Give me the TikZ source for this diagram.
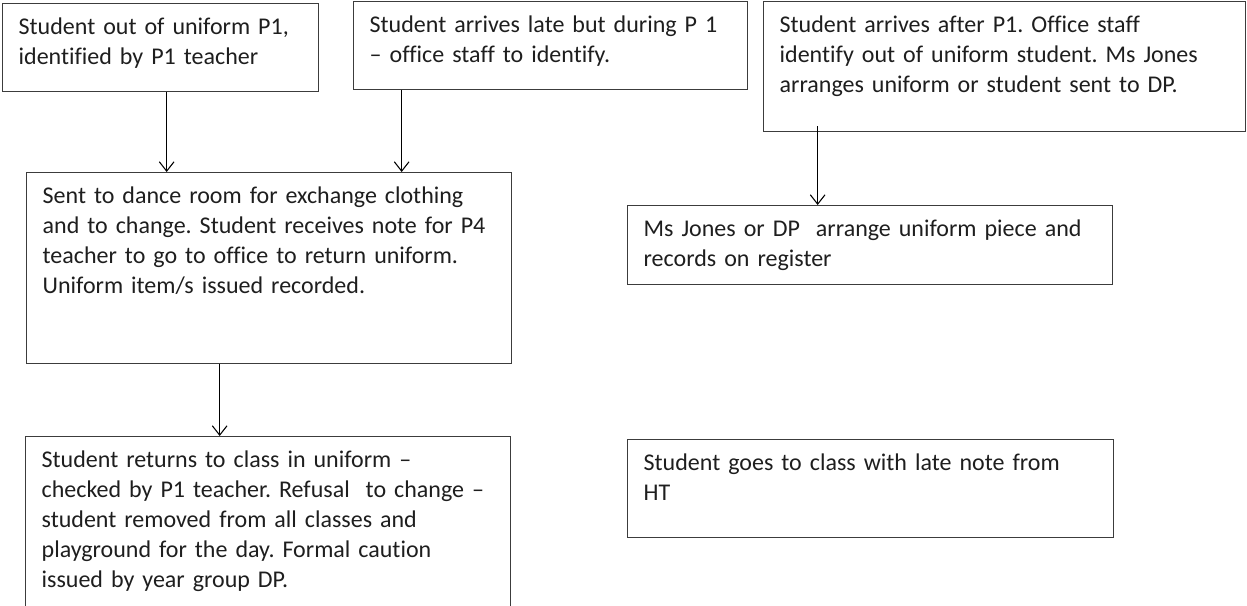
\documentclass[tikz,border=0pt]{standalone}
\usepackage{fontspec}
\setmainfont{Carlito}[Ligatures={TeX,NoCommon}]
\usepackage{tikz}
\usetikzlibrary{arrows.meta, positioning}
\tikzset{>={Straight Barb[length=7pt,width=11pt]}}
\definecolor{boxgrey}{HTML}{3C3C3C}
\definecolor{textgrey}{HTML}{1E1E1E}
\frenchspacing

\begin{document}
\begin{tikzpicture}[x=0.75pt,y=-0.75pt,
	box/.style={draw=boxgrey, line width=1pt, anchor=north west, align=left, text=textgrey,
		inner xsep=12pt, inner ysep=10pt, text height=13pt,
		font=\fontsize{18pt}{22.5pt}\selectfont},
	flow/.style={->, line width=0.8pt}]
			\useasboundingbox (0,0) rectangle (1247,606);
			\node [box, text width=213pt, text depth=33pt] (outP1) at (2,3) {Student out of uniform P1,\\identified by P1 teacher};
			\node [box, text width=271.5pt, text depth=33pt] (lateP1) at (353,1) {Student arrives late but during P 1\\-- office staff to identify.};
			\node [box, text width=337.5pt, text depth=64.5pt] (afterP1) at (763,1) {Student arrives after P1. Office staff\\identify out of uniform student. Ms Jones\\arranges uniform or student sent to DP.};
			\node [box, text width=339.75pt, text depth=110.25pt] (dance) at (26,172) {Sent to dance room for exchange clothing\\and to change. Student receives note for P4\\teacher to go to office to return uniform.\\Uniform item/s issued recorded.};
			\node [box, text width=339.75pt, text depth=26.25pt] (jones) at (627,205) {Ms Jones or DP\ \ arrange uniform piece and\\records on register};
			\node [box, text width=339.75pt, text depth=96pt] (back) at (25,436) {Student returns to class in uniform --\\checked by P1 teacher. Refusal\ \ to change --\\student removed from all classes and\\playground for the day. Formal caution\\issued by year group DP.};
			\node [box, text width=340.5pt, text depth=40.5pt] (latenote) at (627,439) {Student goes to class with late note from\\HT};
			\coordinate (a1) at ([xshift=4.5pt]outP1.south);
			\coordinate (b1) at ([xshift=-111.75pt]lateP1.south);
			\coordinate (c1) at ([xshift=-140.25pt,yshift=4.5pt]afterP1.south);
			\coordinate (d1) at ([xshift=-37.125pt]dance.south);
			\draw [flow] (a1) -- (a1 |- dance.north);
			\draw [flow] (b1) -- (b1 |- dance.north);
			\draw [flow] (c1) -- (c1 |- jones.north);
			\draw [flow] (d1) -- (d1 |- back.north);
		\end{tikzpicture}
\end{document}
